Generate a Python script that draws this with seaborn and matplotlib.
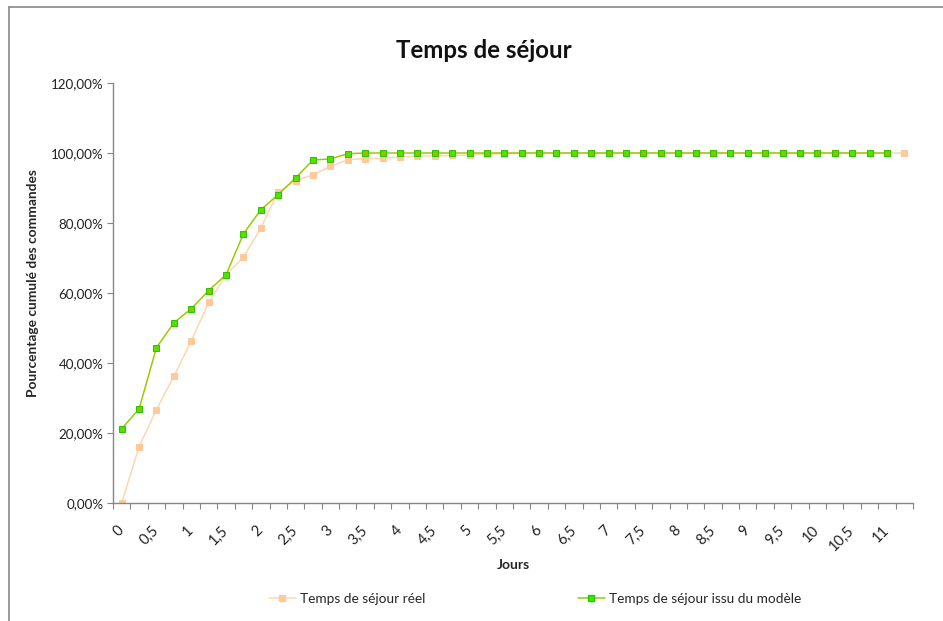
import numpy as np
import pandas as pd
import seaborn as sns
import matplotlib
matplotlib.use("Agg")
import matplotlib.pyplot as plt
from matplotlib.ticker import FixedLocator, FuncFormatter
from matplotlib.lines import Line2D
from matplotlib.transforms import ScaledTranslation

# Days, in quarter-day steps (0 .. 11.25)
jours = [i * 0.25 for i in range(46)]

# Cumulative percentage of orders - observed
reel = [0.0, 16.1, 26.7, 36.2, 46.3, 57.3, 65.2, 70.3, 78.5, 88.9,
        92.1, 93.8, 96.2, 98.1, 98.4, 98.5, 98.9, 99.1, 99.2, 99.3,
        99.4, 99.7, 99.8, 99.9, 100.0, 100.0, 100.0, 100.0, 100.0, 100.0,
        100.0, 100.0, 100.0, 100.0, 100.0, 100.0, 100.0, 100.0, 100.0, 100.0,
        100.0, 100.0, 100.0, 100.0, 100.0, 100.0]

# Cumulative percentage of orders - model (stops at 11 days)
modele = [21.2, 26.9, 44.4, 51.5, 55.5, 60.7, 65.2, 76.9, 83.8, 88.1,
          92.9, 98.0, 98.3, 99.8, 100.0, 100.0, 100.0, 100.0, 100.0, 100.0,
          100.0, 100.0, 100.0, 100.0, 100.0, 100.0, 100.0, 100.0, 100.0, 100.0,
          100.0, 100.0, 100.0, 100.0, 100.0, 100.0, 100.0, 100.0, 100.0, 100.0,
          100.0, 100.0, 100.0, 100.0, 100.0]

serie_reel = "Temps de séjour réel"
serie_modele = "Temps de séjour issu du modèle"

sns.set_theme(style="white")
plt.rcParams["font.family"] = ["Lato", "DejaVu Sans"]

df_reel = pd.DataFrame({"pos": np.arange(len(reel)), "val": reel, "serie": serie_reel})
df_mod = pd.DataFrame({"pos": np.arange(len(modele)), "val": modele, "serie": serie_modele})

fig = plt.figure(figsize=(9.43, 6.21), dpi=100)
W, H = 943, 621
ax = fig.add_axes([113 / W, (H - 503) / H, (913 - 113) / W, (503 - 83) / H])

c_reel_line = "#FFD6B0"
c_reel_mark = "#FFC999"
c_mod_line = "#99CC00"
c_mod_mark = "#33EE00"
c_mod_edge = "#2FC400"

sns.lineplot(data=df_reel, x="pos", y="val", ax=ax, color=c_reel_line,
             linewidth=1.1, marker="s", markersize=4.8,
             markerfacecolor=c_reel_mark, markeredgecolor=c_reel_mark,
             legend=False, zorder=2)
sns.lineplot(data=df_mod, x="pos", y="val", ax=ax, color=c_mod_line,
             linewidth=1.1, marker="s", markersize=5.0,
             markerfacecolor=c_mod_mark, markeredgecolor=c_mod_edge,
             legend=False, zorder=3)
sns.scatterplot(data=df_mod, x="pos", y="val", ax=ax, marker="x",
                color="#9DC000", s=9, linewidth=0.7, legend=False, zorder=4)

# Category axis: boundaries carry the tick marks, every other category is labelled
n = len(jours)
ax.set_xlim(-0.5, n - 0.5)
ax.set_ylim(0, 120)

labels_pos = list(range(0, n - 1, 2))
def fmt_jour(v):
    return f"{v:g}".replace(".", ",")
ax.xaxis.set_major_locator(FixedLocator(labels_pos))
ax.set_xticklabels([fmt_jour(jours[i]) for i in labels_pos], rotation=45,
                   ha="right", va="center", rotation_mode="anchor", fontsize=10.5,
                   color="#222222")
shift = ScaledTranslation(-5 / 100, 0, fig.dpi_scale_trans)
for lab in ax.get_xticklabels():
    lab.set_transform(lab.get_transform() + shift)
ax.xaxis.set_minor_locator(FixedLocator(np.arange(-0.5, n, 1.0)))
ax.tick_params(axis="x", which="major", length=0, pad=18)
ax.tick_params(axis="x", which="minor", length=4, width=0.8, color="#868686",
               direction="out", bottom=True)

ax.set_yticks(np.arange(0, 121, 20))
ax.yaxis.set_major_formatter(FuncFormatter(lambda v, p: f"{v:.2f}".replace(".", ",") + "%"))
ax.tick_params(axis="y", which="major", length=4, width=0.8, color="#868686",
               direction="out", left=True, labelsize=9.6, labelcolor="#222222", pad=3)

for side in ["top", "right"]:
    ax.spines[side].set_visible(False)
for side in ["left", "bottom"]:
    ax.spines[side].set_color("#868686")
    ax.spines[side].set_linewidth(1.0)

ax.set_xlabel("Jours", fontsize=10, fontweight="bold")
ax.set_ylabel("Pourcentage cumulé des commandes", fontsize=9.9, fontweight="bold")
ax.xaxis.set_label_coords(0.5, -(565 - 503) / (503 - 83))
ax.yaxis.set_label_coords(-(113 - 33) / (913 - 113), 0.5 + (293 - 283) / (503 - 83))
ax.xaxis.label.set_va("center")
ax.yaxis.label.set_va("center")

fig.text(484 / W, 1 - 50 / H, "Temps de séjour", ha="center", va="center",
         fontsize=17.3, fontweight="bold", color="#111111")

handles = [
    Line2D([], [], color=c_reel_line, linewidth=1.1, marker="s", markersize=4.8,
           markerfacecolor=c_reel_mark, markeredgecolor=c_reel_mark),
    Line2D([], [], color=c_mod_line, linewidth=1.1, marker="s", markersize=5,
           markerfacecolor=c_mod_mark, markeredgecolor=c_mod_edge),
]
fig.legend(handles, [serie_reel, serie_modele], loc="center",
           bbox_to_anchor=(535 / W, 1 - 599 / H), ncol=2, frameon=False,
           fontsize=9.8, handlelength=2.0, handletextpad=0.3, columnspacing=11.2)

# Chart frame
fig.add_artist(Line2D([9 / W, 1], [1 - 7 / H, 1 - 7 / H], color="#888888", linewidth=1.2))
fig.add_artist(Line2D([9 / W, 9 / W], [0, 1 - 7 / H], color="#888888", linewidth=1.2))

fig.savefig("out.png", dpi=100, facecolor="white")
